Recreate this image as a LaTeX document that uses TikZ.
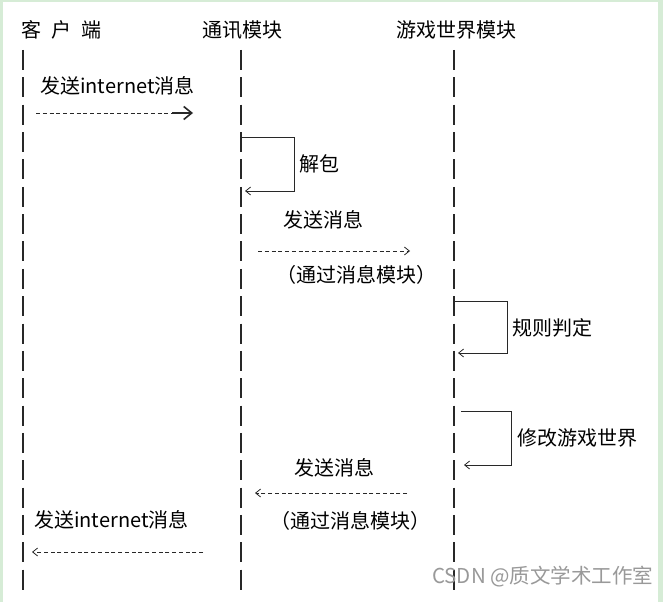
\documentclass[tikz,border=0pt]{standalone}
\usepackage{fontspec}
\usepackage{xcolor}
\usetikzlibrary{arrows.meta}
\newfontfamily\cjk{Noto Sans CJK SC}
\definecolor{frame}{RGB}{214,236,214}
\definecolor{ink}{RGB}{40,40,40}

\begin{document}
\begin{tikzpicture}[x=1pt,y=-1pt,
  txt/.style={anchor=west,inner sep=0pt,text=black,font=\cjk\fontsize{20}{24}\selectfont},
  lifeline/.style={draw=ink,line width=1.4pt,dash pattern=on 20pt off 7.35pt},
  msg/.style={draw=ink,line width=0.9pt,dash pattern=on 4pt off 2.75pt},
  self/.style={draw=ink,line width=1pt},
  chev/.style={-{Straight Barb[length=5pt,width=8pt,line width=0.8pt]}}]
\useasboundingbox (0,0) rectangle (663,602);
\fill[frame] (0,0) rectangle (663,602);
\fill[white] (3,2) rectangle (658,602);

% heads of the three lifelines
\node[txt] (client) at (21,30) {客\hspace{10pt}户\hspace{10pt}端};
\node[txt] (comm) at (202,30) {通讯模块};
\node[txt] (world) at (396,30) {游戏世界模块};

\coordinate (client-top) at (23,50);
\coordinate (client-bot) at (23,590);
\coordinate (comm-top) at (241,50);
\coordinate (comm-bot) at (241,590);
\coordinate (world-top) at (454,50);
\coordinate (world-bot) at (454,590);
\draw[lifeline] (client-top) -- (client-bot);
\draw[lifeline] (comm-top) -- (comm-bot);
\draw[lifeline] (world-top) -- (world-bot);

% client -> comm
\node[txt] (send1) at (40,86) {发送internet消息};
\coordinate (m1a) at (36,113);
\coordinate (m1b) at (172,113);
\coordinate (m1c) at (193,113);
\draw[msg] (m1a) -- (m1b);
\draw[draw=ink,line width=1.6pt,-{Straight Barb[length=8pt,width=13pt]}] (m1b) -- (m1c);

% unpack
\coordinate (u1) at (242,137);
\coordinate (u2) at (245,191);
\draw[self,chev] (u1) -- ++(52,0) |- (u2);
\node[txt] (unpack) at (299,164) {解包};

% comm -> world
\node[txt] (send2) at (283,220) {发送消息};
\coordinate (m2a) at (258,251);
\coordinate (m2b) at (410,251);
\draw[msg,chev] (m2a) -- (m2b);
\node[txt] (via1) at (276,275) {（通过消息模块）};

% rule check
\coordinate (r1) at (455,301);
\coordinate (r2) at (458,353);
\draw[self,chev] (r1) -- ++(52,0) |- (r2);
\node[txt] (rule) at (512,328) {规则判定};

% change the world
\coordinate (w1) at (461,411);
\coordinate (w2) at (464,465);
\draw[self,chev] (w1) -- ++(50,0) |- (w2);
\node[txt] (modify) at (517,438) {修改游戏世界};

% world -> comm
\node[txt] (send3) at (294,468) {发送消息};
\coordinate (m3a) at (407,493);
\coordinate (m3b) at (255,493);
\draw[msg,chev] (m3a) -- (m3b);
\node[txt] (via2) at (270,521) {（通过消息模块）};

% comm -> client
\node[txt] (send4) at (34,520) {发送internet消息};
\coordinate (m4a) at (203,552);
\coordinate (m4b) at (32,552);
\draw[msg,chev] (m4a) -- (m4b);

\node[anchor=west,inner sep=0pt,text=black!40,font=\cjk\fontsize{20.5}{24}\selectfont] (mark) at (432,577) {CSDN @质文学术工作室};
\end{tikzpicture}
\end{document}
